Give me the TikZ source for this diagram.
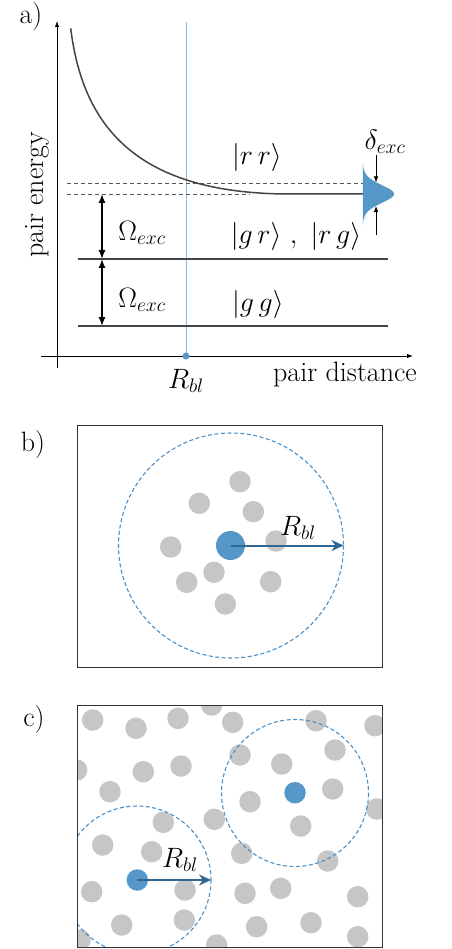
\RequirePackage{fix-cm}
\documentclass[tikz,border=0pt]{standalone}
\usepackage{amsmath}
\usepackage{xcolor}
\usepackage{tikz}
\usetikzlibrary{arrows.meta}
\definecolor{atomgray}{HTML}{C6C6C6}
\definecolor{atomblue}{HTML}{5597C6}
\definecolor{ringblue}{HTML}{4A90C8}
\definecolor{arrowblue}{HTML}{2F6892}
\definecolor{lineblue}{HTML}{88BBE0}
\definecolor{curvegray}{HTML}{444444}

\begin{document}
\begin{tikzpicture}[x=1pt, y=-1pt,
  every node/.style={font=\fontsize{28}{33}\selectfont},
  gatom/.style={circle, fill=atomgray, minimum size=21.5pt, inner sep=0pt},
  batom/.style={circle, fill=atomblue, minimum size=21.5pt, inner sep=0pt},
  ring/.style={ringblue, line width=1.1pt, dash pattern=on 4pt off 2.5pt},
  radarrow/.style={arrowblue, line width=2pt, -{Stealth[length=12pt, width=11pt]}},
  level/.style={curvegray, line width=1.5pt},
  gap/.style={black, line width=1.4pt, {Latex[length=9pt, width=7pt]}-{Latex[length=9pt, width=7pt]}},
  boxline/.style={black!80, line width=1pt}]
\useasboundingbox (0,0) rectangle (451,949);

% a) pair potential
\node (lbla) at (31,17) {a)};
\draw[line width=0.9pt, -{Latex[length=6pt, width=4.5pt]}] (57,368) -- (57,21);
\draw[line width=0.9pt, -{Latex[length=6pt, width=4.5pt]}] (41,356) -- (413,356);
\node[rotate=90] (energy) at (37,195) {pair energy};
\node (dist) at (345,375) {pair distance};
\draw[lineblue, line width=1pt] (186,22) -- (186,356);
\fill[atomblue] (186,356) circle[radius=3.5];
\node (rbla) at (186,381) {$R_{bl}$};
\draw[curvegray!90, line width=0.9pt, dash pattern=on 4pt off 3pt] (67,183) -- (363,183);
\draw[curvegray!90, line width=0.9pt, dash pattern=on 4pt off 3pt] (67,194) -- (250,194);
\draw[level] (70.7,28.3) .. controls (82,120) and (130,194) .. (290,194) -- (363,194);
\fill[atomblue] plot[domain=163:225, samples=91]
  ({362+32*(0.8*exp(-((\x-194)^2)/162)+0.2/(1+((\x-194)/12)^2))}, \x) -- cycle;
\draw[level] (78,259) -- (388,259);
\draw[level] (78,326) -- (388,326);
\coordinate (top) at (102,194);
\coordinate (mid) at (102,259);
\coordinate (bot) at (102,326);
\draw[gap] (top) -- (mid);
\draw[gap] (mid) -- (bot);
\node (om1) at (142,233) {$\Omega_{exc}$};
\node (om2) at (142,300) {$\Omega_{exc}$};
\node (rr) at (257,158) {$|r\,r\rangle$};
\node (grrg) at (296,237) {$|g\,r\rangle\ ,\ |r\,g\rangle$};
\node (gg) at (258,304) {$|g\,g\rangle$};
\node (dexc) at (385,142) {$\delta_{exc}$};
\coordinate (dup) at (376,155);
\coordinate (dupt) at (376,182.5);
\coordinate (ddn) at (376,235);
\coordinate (ddnt) at (376,206);
\draw[line width=0.8pt, -{Latex[length=6pt, width=4.5pt]}] (dup) -- (dupt);
\draw[line width=0.8pt, -{Latex[length=6pt, width=4.5pt]}] (ddn) -- (ddnt);

% b) single blockade sphere
\node (lblb) at (33,445) {b)};
\draw[boxline] (77,425) rectangle (382,667);
\draw[ring] (231,545.5) circle[radius=112.5];
\foreach \p [count=\i] in {(240,481.7), (199.3,503.3), (253.3,511.7), (170.7,547), (276,541),
  (214,572.3), (186.7,582.3), (270.7,581.7), (225.3,604)}
  \node[gatom] (gb\i) at \p {};
\node[batom, minimum size=29pt] (bctr) at (230.5,545.5) {};
\coordinate (bedge) at (343.5,545.5);
\draw[radarrow] (bctr.center) -- (bedge);
\node (rblb) at (298,528) {$R_{bl}$};

% c) many blockade spheres
\node (lblc) at (34,720) {c)};
\begin{scope}
\clip (77,705) rectangle (382,947);
\foreach \p [count=\i] in {(92.7,720), (136,728.3), (178,718.3), (211.7,705), (232.7,722.3),
  (316,720.7), (375,725.7), (240,755), (335,750), (76.7,770), (143.3,771.7), (181,766),
  (281.7,764), (332.7,789), (110,791.7), (250,801.7), (376.7,809), (163.3,822.3),
  (214.3,819.3), (300.7,826), (102.7,845), (151.7,851.7), (241.7,853.3), (327.7,861),
  (91.7,891.7), (185,890), (245,893.3), (280.7,888.3), (357.7,896.7), (121.7,925),
  (184.3,920), (256.7,926.7), (311,922.7), (357.7,936.7), (80,940), (216.7,945)}
  \node[gatom] (gc\i) at \p {};
\draw[ring] (295,793) circle[radius=73.5];
\draw[ring] (137,880) circle[radius=74];
\node[batom] (c1) at (295,792.7) {};
\node[batom] (c2) at (137.3,880) {};
\end{scope}
\draw[boxline] (77,705) rectangle (382,947);
\coordinate (cedge) at (211,880);
\draw[radarrow] (c2.center) -- (cedge);
\node (rblc) at (180,860) {$R_{bl}$};
\end{tikzpicture}
\end{document}
